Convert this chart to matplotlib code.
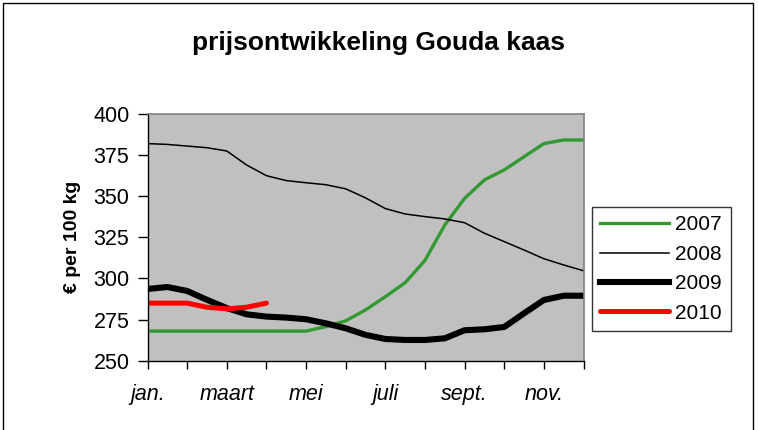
import matplotlib
matplotlib.use('Agg')
import matplotlib.pyplot as plt
from matplotlib.patches import Rectangle
import numpy as np

plt.rcParams['font.family'] = ['Liberation Sans', 'DejaVu Sans']

# prijzen per halve maand (jan. t/m dec.)
prijs_2007 = [268, 268, 268, 268, 268, 268, 268, 268, 268, 270.7, 274.2, 280.9,
              288.9, 297.4, 311, 332.5, 348.7, 359.9, 366, 374, 382, 384.2, 384.2]
prijs_2008 = [382, 381.5, 380.5, 379.5, 377.5, 369, 362.5, 359.5, 358.2, 357, 354.5, 349,
              342.5, 339.2, 337.6, 336.2, 333.9, 327.5, 322.4, 317.3, 312, 308.2, 304.7]
prijs_2009 = [293.6, 294.8, 292.4, 287, 282, 278.2, 276.8, 276.2, 275.2, 272.7, 269.7, 265.7,
              263.2, 262.6, 262.6, 263.6, 268.5, 269.1, 270.5, 278.8, 286.9, 289.5, 289.5]
prijs_2010 = [285, 285, 285, 282.5, 281.5, 282.5, 285]

maanden = ['jan.', '', 'maart', '', 'mei', '', 'juli', '', 'sept.', '', 'nov.', '']

fig = plt.figure(figsize=(7.58, 4.30), dpi=100)
ax = fig.add_axes([0.1946, 0.1612, 0.5752, 0.5737])
ax.set_facecolor('#C0C0C0')

def xs(serie):
    return np.arange(len(serie)) / 2.0

ax.plot(xs(prijs_2007), prijs_2007, color='#339933', lw=2.4, label='2007', solid_joinstyle='round')
ax.plot(xs(prijs_2008), prijs_2008, color='black', lw=1.1, label='2008')
ax.plot(xs(prijs_2009), prijs_2009, color='black', lw=4.4, label='2009', solid_joinstyle='round')
ax.plot(xs(prijs_2010), prijs_2010, color='#FF0000', lw=3.6, label='2010',
        solid_joinstyle='round', solid_capstyle='round')

ax.set_xlim(0, 11)
ax.set_ylim(250, 400)
ax.set_yticks(np.arange(250, 401, 25))
ax.set_xticks(range(12))
ax.set_xticklabels(maanden, fontstyle='italic', fontsize=15.5)
ax.tick_params(axis='y', direction='out', length=7, width=1, pad=6, labelsize=15.5)
ax.tick_params(axis='x', direction='out', length=6, width=1, pad=11)

for s in ['top', 'right']:
    ax.spines[s].set_color('#808080')
    ax.spines[s].set_linewidth(1.2)
for s in ['left', 'bottom']:
    ax.spines[s].set_color('black')
    ax.spines[s].set_linewidth(1)

ax.set_ylabel('€ per 100 kg', fontsize=14, fontweight='bold', labelpad=9)

fig.text(0.5, 0.9, 'prijsontwikkeling Gouda kaas', ha='center', va='center',
         fontsize=19, fontweight='bold')

leg = fig.legend(loc='upper left', bbox_to_anchor=(0.7806, 0.5193), fontsize=15,
                 frameon=True, fancybox=False, handlelength=3.3, labelspacing=0.5,
                 borderpad=0.42, handletextpad=0.3, borderaxespad=0)
leg.get_frame().set_edgecolor('black')
leg.get_frame().set_linewidth(1)

# rand rond de grafiek
fig.patches.append(Rectangle((0.004, -0.01), 0.99, 1.003, transform=fig.transFigure,
                             fill=False, edgecolor='black', lw=1))

fig.savefig('out.png', dpi=100)
